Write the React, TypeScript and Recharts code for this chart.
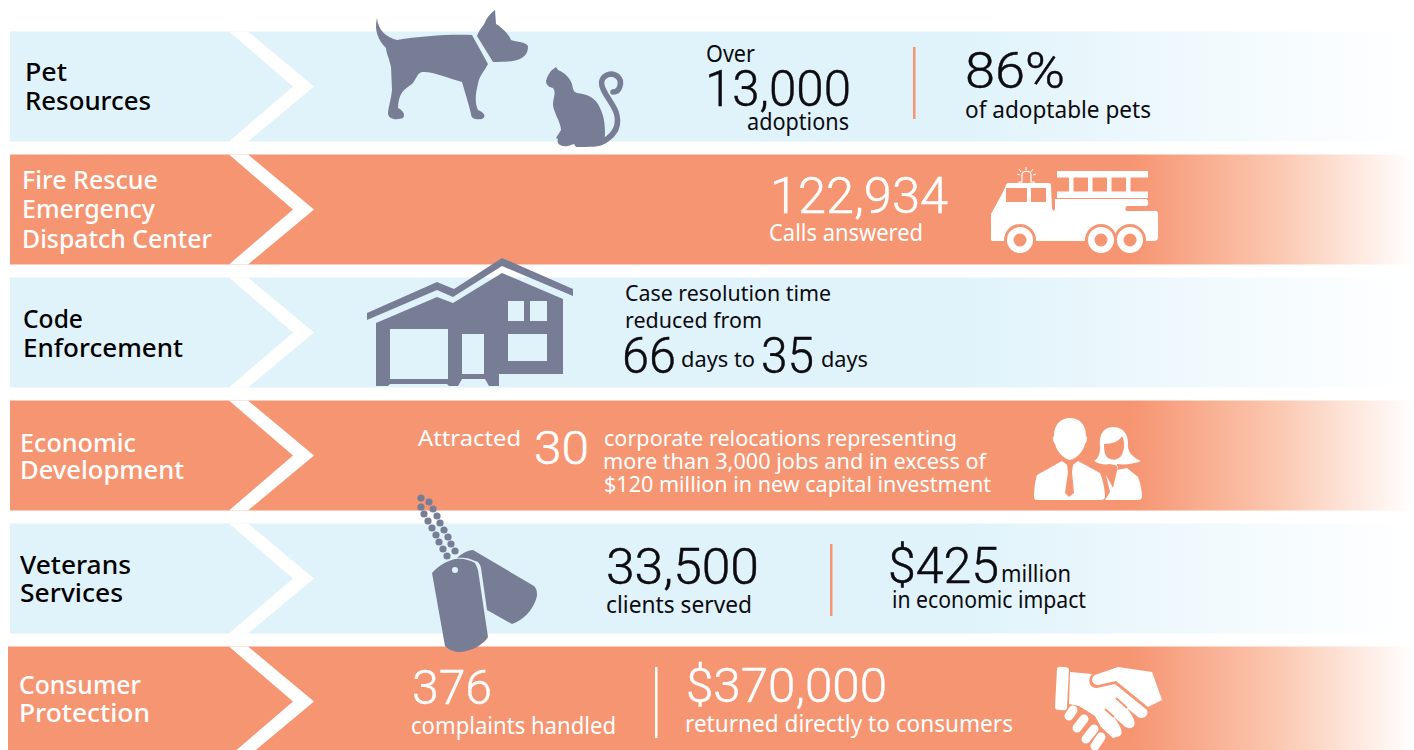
import { Bar, BarChart, LabelList, XAxis, YAxis } from 'recharts';

const BLUE = '#e0f3fb';
const ORANGE = '#f69572';
const SLATE = '#787d96';
const INK = '#0b0b10';

// one band per programme
const categories = [
  ['Pet', 'Resources'],
  ['Fire Rescue', 'Emergency', 'Dispatch Center'],
  ['Code', 'Enforcement'],
  ['Economic', 'Development'],
  ['Veterans', 'Services'],
  ['Consumer', 'Protection'],
];
const bandStart = [10, 10, 10, 10, 10, 8];
const bandEnd = [1414, 1414, 1414, 1414, 1414, 1414];

const petTexts = ['Over', '13,000', 'adoptions', '86%', 'of adoptable pets'];
const fireTexts = ['122,934', 'Calls answered'];
const codeTexts = ['Case resolution time', 'reduced from', '66', 'days to', '35', 'days'];
const econTexts = [
  'Attracted',
  '30',
  'corporate relocations representing',
  'more than 3,000 jobs and in excess of',
  '$120 million in new capital investment',
];
const vetTexts = ['33,500', 'clients served', '$425', 'million', 'in economic impact'];
const consumerTexts = ['376', 'complaints handled', '$370,000', 'returned directly to consumers'];

const chartData = categories.map((lines, i) => ({
  name: lines.join(' '),
  span: [bandStart[i], bandEnd[i]],
}));

// x, baselines and widths of the band titles
const titleX = [25, 22, 23, 20, 20, 19];
const titleY = [[81, 110], [189, 218, 248], [328, 357], [452, 479], [574, 602], [694, 722]];
const titleW = [[42, 126], [136, 133, 190], [60, 160], [116, 164], [111, 103], [122, 131]];

function T(props: { x: number; y: number; s: number; w: number; c?: string; big?: boolean; children: string }) {
  const { x, y, s, w, c = INK, big, children } = props;
  return (
    <text
      x={x}
      y={y}
      fontSize={s}
      fill={c}
      stroke={big ? c : 'none'}
      strokeWidth={big ? 0.45 : 0}
      fontFamily={big ? 'Roboto, sans-serif' : '"Noto Sans", sans-serif'}
      fontWeight={big ? 300 : 400}
      textLength={w}
      lengthAdjust="spacingAndGlyphs"
    >
      {children}
    </text>
  );
}

function BandShape(props: any) {
  const { x, y, width, height, index } = props;
  const top = y;
  const mid = y + height / 2;
  const bot = y + height;
  return (
    <g>
      <rect x={x} y={y} width={width} height={height} fill={`url(#${index % 2 ? 'fadeOrange' : 'fadeBlue'})`} />
      <polygon
        points={`229,${top} 248,${top} 314,${mid} 248,${bot} 229,${bot} 293,${mid}`}
        fill="#fff"
      />
    </g>
  );
}

function Title({ i }: { i: number }) {
  const color = i % 2 ? '#fff' : '#000';
  return (
    <g>
      {categories[i].map((line, k) => (
        <text
          key={line}
          x={titleX[i]}
          y={titleY[i][k]}
          fontSize={25}
          fontWeight={500}
          fontFamily='"Noto Sans", sans-serif'
          fill={color}
          textLength={titleW[i][k]}
          lengthAdjust="spacingAndGlyphs"
        >
          {line}
        </text>
      ))}
    </g>
  );
}

function PetIcons() {
  return (
    <g fill={SLATE}>
      <path d="M377 18 C378 30 386 37 397 40 C420 36 450 34 472 35 L488 64 C484 72 479 76 478 84 C475 95 475 104 478 110 C484 112 487 117 482 119 C477 120 471 119 471 114 L469 106 L462 82 C448 78 432 71 422 72 C417 73 416 80 412 84 C404 90 399 92 398 108 C402 110 406 114 403 118 C398 120 389 120 388 114 C388 108 391 100 392 90 L391 67 C389 58 386 52 386 48 C378 40 374 30 377 18 Z" />
      <path d="M477 36 C480 28 484 26 486 20 C489 15 492 12 495 10 L496 24 C503 28 510 36 511 40 C517 42 526 42 528 46 C528 52 526 56 520 59 C512 62 502 62 493 62 Z" />
      <path d="M556 67 L558 70 C564 72 570 78 572 84 C573 90 574 92 577 93 C586 94 596 97 600 108 C604 116 605 124 605 134 L604 144 C600 147 590 147 576 147 L574 144 L568 146 C561 147 556 144 558 139 L556 138 L561 130 C561 122 552 110 553 103 C554 96 556 92 553 88 C548 87 546 84 546 81 C547 76 550 72 552 70 Z" />
      <path
        d="M604 141 C616 134 620 124 616 112 C612 102 604 94 602 86 C600 78 606 74 612 74 C618 75 622 80 620 86 C619 90 616 92 613 92"
        fill="none"
        stroke={SLATE}
        strokeWidth={5.5}
        strokeLinecap="round"
      />
    </g>
  );
}

function TruckIcon() {
  const wheels = [1020, 1101, 1130];
  const rungs = [1069, 1088, 1107, 1126];
  return (
    <g fill="#fff">
      <path d="M991 214 L1003 192 L1006 185 C1007 183 1008 183 1010 183 L1049 183 C1051 183 1051 184 1051 186 L1052 208 C1053 212 1055 211 1055 208 L1055 199 L1146 199 C1149 200 1149 206 1146 206 L1127 206 C1125 207 1125 211 1127 211 L1155 211 C1158 211 1158 213 1158 216 L1158 238 C1158 240 1156 241 1154 241 L993 241 C991 241 991 240 991 238 Z" />
      <rect x={1057} y={171} width={91} height={6.5} />
      <rect x={1057} y={191.5} width={91} height={6.5} />
      {rungs.map((x) => (
        <rect key={x} x={x} y={177} width={4.5} height={15} />
      ))}
      <rect x={1006} y={188} width={21} height={14} fill={ORANGE} />
      <rect x={1031} y={188} width={15} height={14} fill={ORANGE} />
      {wheels.map((x) => (
        <g key={x}>
          <circle cx={x} cy={240} r={16} fill={ORANGE} />
          <circle cx={x} cy={240} r={13} />
          <circle cx={x} cy={240} r={6.5} fill={ORANGE} />
        </g>
      ))}
      <path d="M1022 182 L1022 175 C1022 170 1031 170 1031 175 L1031 182 L1034 182 L1034 184 L1019 184 L1019 182 Z" fill="none" stroke="#fff" strokeWidth={1.2} />
      <path d="M1026 167 L1026 170 M1019 169 L1021 172 M1033 169 L1031 172 M1017 174 L1020 175 M1036 174 L1033 175" stroke="#fff" strokeWidth={1} />
    </g>
  );
}

function HouseIcon() {
  return (
    <g>
      <polygon fill={SLATE} points="367,313 437,282 454,289 502,258 573,289 573,296 502,266 453,297 437,290 367,320" />
      <polygon
        fill={SLATE}
        points="376,323 437,297 453,303 502,273 563,299 563,374 499,374 499,386 489,386 485,379 462,379 458,386 449,386 447,384 390,384 388,386 376,386"
      />
      <g fill={BLUE}>
        <rect x={390} y={329} width={58} height={50} />
        <rect x={462} y={334} width={22} height={40} />
        <rect x={508} y={301} width={16} height={20} />
        <rect x={530} y={301} width={17} height={20} />
        <rect x={508} y={334} width={39} height={27} />
      </g>
    </g>
  );
}

const beadsLeft = [[421, 498], [421, 507], [424, 514], [428, 521], [432, 528], [436, 535], [439, 542], [443, 549], [447, 556]];
const beadsRight = [[429, 502], [433, 509], [437, 516], [440, 523], [444, 530], [448, 537], [451, 544], [455, 551]];

function TagsIcon() {
  return (
    <g fill={SLATE}>
      {[...beadsLeft, ...beadsRight].map(([cx, cy]) => (
        <circle key={`${cx}-${cy}`} cx={cx} cy={cy} r={3.6} />
      ))}
      <path d="M457 558 C461 554 468 550 473 550 L534 586 C537 589 537 592 537 596 C534 610 522 621 512 624 L487 610 L481 568 C480 564 478 561 475 561 C470 558 463 557 457 558 Z" />
      <path d="M432 573 C438 566 448 560 456 559 C462 558 470 560 475 563 C476 565 477 567 478 570 L488 637 C483 645 472 651 460 652 C454 652 449 650 445 646 Z" />
      <circle cx={455} cy={570} r={3} fill={BLUE} />
    </g>
  );
}

function PeopleIcon() {
  return (
    <g fill="#fff">
      <path d="M1094 461 C1099 458 1100 453 1100 447 C1099 436 1102 428 1112 427 C1124 426 1129 436 1128 446 C1128 453 1134 458 1141 461 C1134 464 1124 465 1117 464 L1117 470 L1127 468 L1138 477 C1140 482 1142 490 1142 496 C1142 499 1140 500 1138 500 L1105 500 L1110 492 L1106 475 L1113 488 L1118 466 L1110 464 C1105 465 1098 464 1094 461 Z" />
      <path d="M1104 444 C1112 444 1120 441 1122 436 C1125 442 1125 450 1121 456 C1117 461 1110 461 1106 456 C1104 452 1104 448 1104 444 Z" fill={ORANGE} />
      <path d="M1054 436 C1054 424 1061 418 1070 418 C1079 418 1086 424 1086 436 C1088 437 1087 442 1085 444 C1083 452 1076 459 1070 460 C1064 459 1057 452 1055 444 C1053 442 1052 437 1054 436 Z" />
      <path d="M1062 461 L1070 467 L1078 461 L1100 473 C1103 480 1105 490 1105 497 C1105 499 1103 500 1101 500 L1037 500 C1035 500 1034 499 1034 497 C1034 490 1035 481 1037 475 Z" />
      <path d="M1067 465 L1073 465 L1072 472 L1074 493 L1069 497 L1065 493 L1068 472 Z" fill={ORANGE} />
    </g>
  );
}

function HandshakeIcon() {
  return (
    <g fill="#fff">
      <rect x={1056} y={667} width={12} height={43} rx={3} transform="rotate(3 1062 688)" />
      <path d="M1095 675 L1118 667 L1152 672 L1162 700 L1148 707 L1116 681 L1098 685 C1092 685 1090 678 1095 675 Z" />
      <path d="M1070 672 L1092 674 C1087 680 1089 688 1097 688 L1115 684 L1147 710 C1149 716 1143 720 1138 717 L1127 708 C1133 716 1136 722 1134 726 C1130 730 1126 728 1122 724 L1114 717 C1120 726 1124 732 1120 736 L1113 738 L1101 727 L1095 716 L1079 706 L1069 704 Z" />
      <g stroke="#fff" strokeWidth={9} strokeLinecap="round">
        <line x1={1069} y1={716} x2={1073} y2={710} />
        <line x1={1077} y1={728} x2={1084} y2={719} />
        <line x1={1086} y1={739} x2={1094} y2={729} />
        <line x1={1095} y1={746} x2={1101} y2={737} />
      </g>
      <g stroke={ORANGE} strokeWidth={2} fill="none">
        <line x1={1127} y1={708} x2={1116} y2={698} />
        <line x1={1114} y1={717} x2={1105} y2={709} />
      </g>
    </g>
  );
}

function Divider(props: { x: number; y1: number; y2: number; c: string }) {
  return <rect x={props.x} y={props.y1} width={2.5} height={props.y2 - props.y1} fill={props.c} />;
}

function PetRow() {
  return (
    <g>
      <PetIcons />
      <T x={706} y={62} s={23} w={49}>{petTexts[0]}</T>
      <T big x={705} y={106} s={50} w={146}>{petTexts[1]}</T>
      <T x={747} y={130} s={23} w={102}>{petTexts[2]}</T>
      <Divider x={913} y1={47} y2={119} c={ORANGE} />
      <T big x={965} y={88} s={50} w={100}>{petTexts[3]}</T>
      <T x={965} y={118} s={24} w={186}>{petTexts[4]}</T>
    </g>
  );
}

function FireRow() {
  return (
    <g>
      <TruckIcon />
      <T big c="#fff" x={770} y={213} s={50} w={178}>{fireTexts[0]}</T>
      <T c="#fff" x={769} y={241} s={23} w={154}>{fireTexts[1]}</T>
    </g>
  );
}

function CodeRow() {
  return (
    <g>
      <HouseIcon />
      <T x={625} y={301} s={22} w={206}>{codeTexts[0]}</T>
      <T x={625} y={328} s={22} w={137}>{codeTexts[1]}</T>
      <T big x={622} y={373} s={50} w={54}>{codeTexts[2]}</T>
      <T x={681} y={367} s={22} w={74}>{codeTexts[3]}</T>
      <T big x={761} y={373} s={50} w={53}>{codeTexts[4]}</T>
      <T x={821} y={367} s={22} w={47}>{codeTexts[5]}</T>
    </g>
  );
}

function EconRow() {
  return (
    <g>
      <PeopleIcon />
      <T c="#fff" x={418} y={446} s={22} w={103}>{econTexts[0]}</T>
      <T big c="#fff" x={534} y={464} s={46} w={55}>{econTexts[1]}</T>
      <T c="#fff" x={604} y={446} s={22} w={353}>{econTexts[2]}</T>
      <T c="#fff" x={603} y={469} s={22} w={383}>{econTexts[3]}</T>
      <T c="#fff" x={604} y={492} s={22} w={387}>{econTexts[4]}</T>
    </g>
  );
}

function VetRow() {
  return (
    <g>
      <TagsIcon />
      <T big x={606} y={584} s={50} w={153}>{vetTexts[0]}</T>
      <T x={606} y={613} s={23} w={146}>{vetTexts[1]}</T>
      <Divider x={830} y1={544} y2={616} c={ORANGE} />
      <T big x={888} y={583} s={50} w={111}>{vetTexts[2]}</T>
      <T x={1001} y={582} s={23} w={70}>{vetTexts[3]}</T>
      <T x={892} y={608} s={23} w={194}>{vetTexts[4]}</T>
    </g>
  );
}

function ConsumerRow() {
  return (
    <g>
      <HandshakeIcon />
      <T big c="#fff" x={412} y={704} s={48} w={80}>{consumerTexts[0]}</T>
      <T c="#fff" x={411} y={734} s={23} w={205}>{consumerTexts[1]}</T>
      <Divider x={655} y1={667} y2={738} c="#fff" />
      <T big c="#fff" x={686} y={702} s={48} w={201}>{consumerTexts[2]}</T>
      <T c="#fff" x={685} y={732} s={23} w={328}>{consumerTexts[3]}</T>
    </g>
  );
}

const rowContent = [PetRow, FireRow, CodeRow, EconRow, VetRow, ConsumerRow];

// labels sit above the bars, so the row contents go through a LabelList
function RowOverlay(props: any) {
  const i = props.index ?? 0;
  const Row = rowContent[i];
  return (
    <g>
      <Title i={i} />
      <Row />
    </g>
  );
}

export default function App() {
  return (
    <div style={{ position: 'absolute', left: 0, top: 0, width: 1414, height: 750, overflow: 'hidden', background: '#fff' }}>
      <BarChart
        width={1414}
        height={763}
        data={chartData}
        layout="vertical"
        margin={{ top: 24.5, right: 0, bottom: 0.5, left: 0 }}
      >
        <defs>
          <linearGradient id="fadeBlue" x1="0" y1="0" x2="1" y2="0">
            <stop offset="0.68" stopColor={BLUE} />
            <stop offset="1" stopColor="#ffffff" />
          </linearGradient>
          <linearGradient id="fadeOrange" x1="0" y1="0" x2="1" y2="0">
            <stop offset="0.8" stopColor={ORANGE} />
            <stop offset="0.9" stopColor="#fbc6ae" />
            <stop offset="1" stopColor="#ffffff" />
          </linearGradient>
        </defs>
        <XAxis type="number" domain={[0, 1414]} hide />
        <YAxis type="category" dataKey="name" hide />
        <Bar dataKey="span" barSize={110} shape={BandShape} isAnimationActive={false}>
          <LabelList dataKey="name" content={RowOverlay} />
        </Bar>
      </BarChart>
    </div>
  );
}
